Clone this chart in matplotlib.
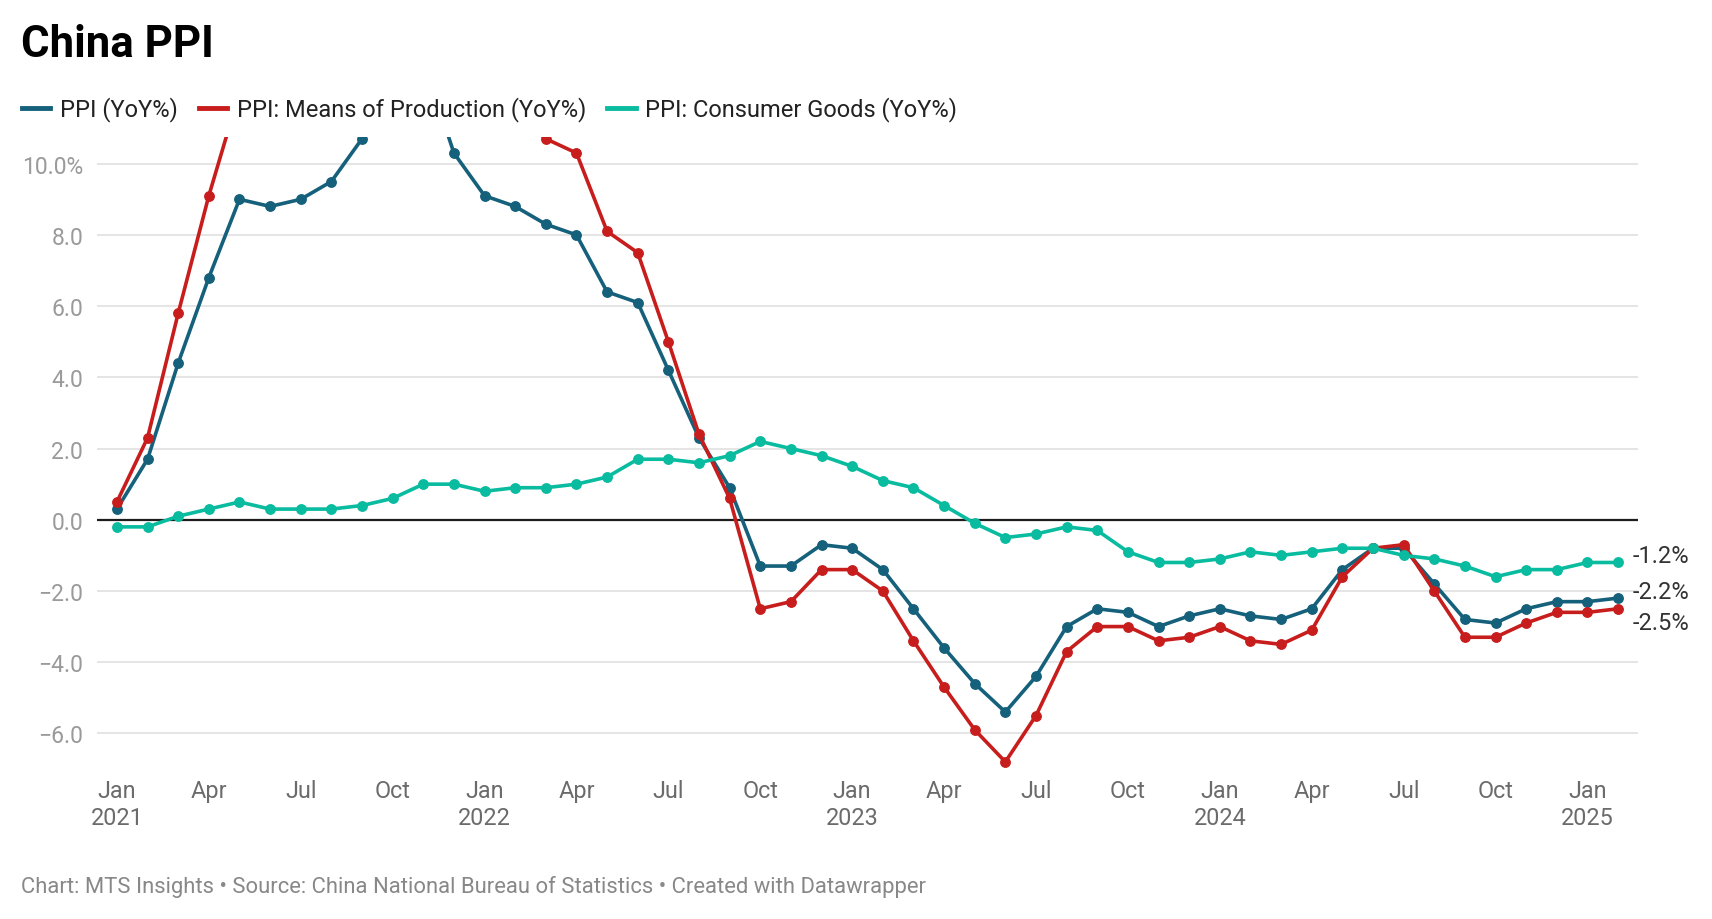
import matplotlib.pyplot as plt
from matplotlib.lines import Line2D

plt.rcParams['font.family'] = ['Roboto', 'DejaVu Sans']

# monthly data, Jan 2021 - Feb 2025
months = ['Jan', 'Feb', 'Mar', 'Apr', 'May', 'Jun', 'Jul', 'Aug', 'Sep', 'Oct', 'Nov', 'Dec']
start_year = 2021
ppi = [0.3, 1.7, 4.4, 6.8, 9.0, 8.8, 9.0, 9.5, 10.7, 13.5, 12.9, 10.3,
       9.1, 8.8, 8.3, 8.0, 6.4, 6.1, 4.2, 2.3, 0.9, -1.3, -1.3, -0.7,
       -0.8, -1.4, -2.5, -3.6, -4.6, -5.4, -4.4, -3.0, -2.5, -2.6, -3.0, -2.7,
       -2.5, -2.7, -2.8, -2.5, -1.4, -0.8, -0.8, -1.8, -2.8, -2.9, -2.5, -2.3,
       -2.3, -2.2]
means_prod = [0.5, 2.3, 5.8, 9.1, 12.0, 11.8, 12.0, 12.7, 14.3, 17.9, 17.0, 13.4,
              11.8, 11.4, 10.7, 10.3, 8.1, 7.5, 5.0, 2.4, 0.6, -2.5, -2.3, -1.4,
              -1.4, -2.0, -3.4, -4.7, -5.9, -6.8, -5.5, -3.7, -3.0, -3.0, -3.4, -3.3,
              -3.0, -3.4, -3.5, -3.1, -1.6, -0.8, -0.7, -2.0, -3.3, -3.3, -2.9, -2.6,
              -2.6, -2.5]
consumer = [-0.2, -0.2, 0.1, 0.3, 0.5, 0.3, 0.3, 0.3, 0.4, 0.6, 1.0, 1.0,
            0.8, 0.9, 0.9, 1.0, 1.2, 1.7, 1.7, 1.6, 1.8, 2.2, 2.0, 1.8,
            1.5, 1.1, 0.9, 0.4, -0.1, -0.5, -0.4, -0.2, -0.3, -0.9, -1.2, -1.2,
            -1.1, -0.9, -1.0, -0.9, -0.8, -0.8, -1.0, -1.1, -1.3, -1.6, -1.4, -1.4,
            -1.2, -1.2]

series_names = ['PPI (YoY%)', 'PPI: Means of Production (YoY%)', 'PPI: Consumer Goods (YoY%)']
series_colors = ['#15607a', '#c71e1d', '#09bb9f']
label_shift = [7, -14, 7]   # pixel nudges for end labels (ppi, means, consumer)

x = list(range(len(ppi)))

fig = plt.figure(figsize=(17.12, 9.2), dpi=100)
ax = fig.add_axes([97/1712, 1-770/920, (1638-97)/1712, (770-138)/920])

for vals, col in zip([ppi, means_prod, consumer], series_colors):
    ax.plot(x, vals, color=col, lw=2.6, marker='o', ms=6.8, zorder=3,
            solid_joinstyle='round', solid_capstyle='round')

ax.set_xlim(-0.65, len(x) - 1 + 0.65)
ax.set_ylim(-7.0, 10.75)

# grid
yticks = [-6, -4, -2, 0, 2, 4, 6, 8, 10]
for t in yticks:
    if t == 0:
        ax.axhline(0, color='#1d1d1d', lw=1.6, zorder=2)
    else:
        ax.axhline(t, color='#e3e3e3', lw=1.3, zorder=1)
ax.set_yticks(yticks)
ylabels = []
for t in yticks:
    s = '%.1f' % t
    s = s.replace('-', '\u2212')
    if t == 10:
        s += '%'
    ylabels.append(s)
ax.set_yticklabels(ylabels)

xt = list(range(0, len(x), 3))
xl = []
for i in xt:
    m = months[i % 12]
    if i % 12 == 0:
        xl.append(m + '\n' + str(start_year + i // 12))
    else:
        xl.append(m)
ax.set_xticks(xt)
ax.set_xticklabels(xl, linespacing=1.2)

ax.tick_params(axis='y', length=0, pad=10, labelsize=16.5, labelcolor='#9a9a9a')
ax.tick_params(axis='x', length=0, pad=7.5, labelsize=16.8, labelcolor='#6b6b6b')
for sp in ax.spines.values():
    sp.set_visible(False)

# end labels
ends = [ppi[-1], means_prod[-1], consumer[-1]]
for v, dy in zip(ends, label_shift):
    ax.annotate('%.1f%%' % v, xy=(x[-1], v), xytext=(15, dy), textcoords='offset pixels',
                va='center', ha='left', fontsize=17, color='#333333', annotation_clip=False)

# title
fig.text(21/1712, 1-45/920, 'China PPI', fontsize=31.5, fontweight='bold', color='#000000',
         va='center', ha='left')

# legend
handles = [Line2D([0], [0], color=c, lw=3.5) for c in series_colors]
fig.legend(handles, series_names, loc='center left', bbox_to_anchor=(22/1712, 1-110/920),
           ncol=3, frameon=False, fontsize=17, handlelength=1.2, handletextpad=0.4,
           columnspacing=0.9, labelcolor='#222222', borderpad=0, borderaxespad=0)

fig.text(21/1712, 1-887/920,
         'Chart: MTS Insights \u2022 Source: China National Bureau of Statistics \u2022 Created with Datawrapper',
         fontsize=15.8, color='#888888', va='center', ha='left')

plt.savefig('out.png', dpi=100, facecolor='white')
